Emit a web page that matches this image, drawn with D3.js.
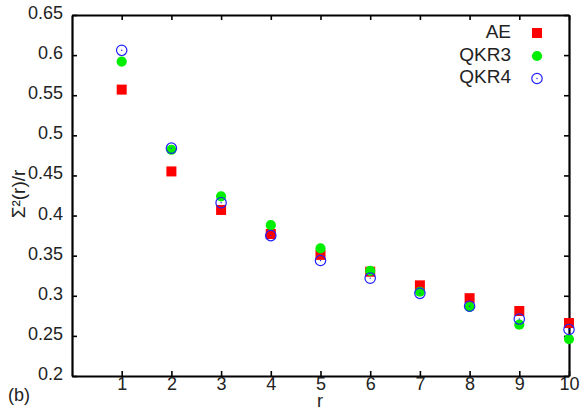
<!DOCTYPE html>
<html>
<head>
<meta charset="utf-8">
<script src="https://cdn.jsdelivr.net/npm/d3@7"></script>
<style>
  html, body { margin: 0; padding: 0; background: #fff; }
  svg { display: block; }
  text { font-family: "Liberation Sans", Arial, Helvetica, sans-serif; fill: #222; }
</style>
</head>
<body>
<svg id="chart" width="583" height="413"></svg>
<script>
// r values and Σ²(r)/r for each method
const rValues = [1, 2, 3, 4, 5, 6, 7, 8, 9, 10];
const aeValues   = [0.557, 0.455, 0.407, 0.377, 0.351, 0.330, 0.313, 0.297, 0.281, 0.266];
const qkr3Values = [0.592, 0.482, 0.424, 0.388, 0.359, 0.331, 0.305, 0.286, 0.264, 0.246];
const qkr4Values = [0.606, 0.484, 0.416, 0.375, 0.344, 0.322, 0.303, 0.287, 0.271, 0.258];
const seriesNames = ["AE", "QKR3", "QKR4"];
const xTicks = [1, 2, 3, 4, 5, 6, 7, 8, 9, 10];
const yTicks = [0.2, 0.25, 0.3, 0.35, 0.4, 0.45, 0.5, 0.55, 0.6, 0.65];

const svg = d3.select("#chart");
const plotLeft = 72, plotRight = 569, plotTop = 15, plotBottom = 376;

const x = d3.scaleLinear().domain([0, 10]).range([plotLeft, plotRight]);
const y = d3.scaleLinear().domain([0.2, 0.65]).range([plotBottom, plotTop]);

const tickLen = 5;
const fontSize = 18;
const fmt = d => String(+d.toFixed(2));

// Axes: ticks point inward on all four sides
const gBottom = svg.append("g").attr("transform", `translate(0,${plotBottom})`)
  .call(d3.axisBottom(x).tickValues(xTicks).tickSize(-tickLen).tickSizeOuter(0).tickFormat(d3.format("d")));
const gTop = svg.append("g").attr("transform", `translate(0,${plotTop})`)
  .call(d3.axisTop(x).tickValues(xTicks).tickSize(-tickLen).tickSizeOuter(0).tickFormat(""));
const gLeft = svg.append("g").attr("transform", `translate(${plotLeft},0)`)
  .call(d3.axisLeft(y).tickValues(yTicks).tickSize(-tickLen).tickSizeOuter(0).tickPadding(9).tickFormat(fmt));
const gRight = svg.append("g").attr("transform", `translate(${plotRight},0)`)
  .call(d3.axisRight(y).tickValues(yTicks).tickSize(-tickLen).tickSizeOuter(0).tickFormat(""));

[gBottom, gTop, gLeft, gRight].forEach(g => {
  g.select(".domain").attr("stroke", "#000").attr("stroke-width", 2.2);
  g.selectAll(".tick line").attr("stroke", "#000").attr("stroke-width", 1.6);
  g.selectAll(".tick text").attr("font-size", fontSize).attr("fill", "#222")
    .attr("font-family", "Liberation Sans, Arial, sans-serif");
});
gBottom.selectAll(".tick text").attr("y", 14).attr("dy", null);
gLeft.selectAll(".tick text").attr("dy", 3.5);

// Axis titles and panel tag
svg.append("text").attr("x", 320).attr("y", 407).attr("text-anchor", "middle")
  .attr("font-size", fontSize).text("r");
svg.append("text").attr("transform", "translate(25,194) rotate(-90)")
  .attr("text-anchor", "middle").attr("font-size", 19).text("Σ²(r)/r");
svg.append("text").attr("x", 8).attr("y", 401).attr("font-size", fontSize).text("(b)");

const plot = svg.append("g");

// AE: red squares
const sq = 10;
plot.selectAll("rect.ae").data(rValues.map((r, i) => [r, aeValues[i]]))
  .enter().append("rect").attr("class", "ae")
  .attr("x", d => x(d[0]) - sq / 2).attr("y", d => y(d[1]) - sq / 2)
  .attr("width", sq).attr("height", sq).attr("fill", "#ff0000");

// QKR3: green filled circles
plot.selectAll("circle.qkr3").data(rValues.map((r, i) => [r, qkr3Values[i]]))
  .enter().append("circle").attr("class", "qkr3")
  .attr("cx", d => x(d[0])).attr("cy", d => y(d[1])).attr("r", 5.1)
  .attr("fill", "#00ee00");

// QKR4: blue open circles with centre dot
const q4 = plot.selectAll("g.qkr4").data(rValues.map((r, i) => [r, qkr4Values[i]]))
  .enter().append("g").attr("class", "qkr4")
  .attr("transform", d => `translate(${x(d[0])},${y(d[1])})`);
q4.append("circle").attr("r", 5.2).attr("fill", "none").attr("stroke", "#2020ff").attr("stroke-width", 1.2);
q4.append("circle").attr("r", 0.7).attr("fill", "#2020ff");

// Legend
const legendY = [33, 56, 78.5];
const legendTextX = 511, legendMarkX = 537;
seriesNames.forEach((name, i) => {
  svg.append("text").attr("x", legendTextX).attr("y", legendY[i] + 4.5)
    .attr("text-anchor", "end").attr("font-size", 19).text(name);
});
svg.append("rect").attr("x", legendMarkX - 5).attr("y", legendY[0] - 5)
  .attr("width", 10).attr("height", 10).attr("fill", "#ff0000");
svg.append("circle").attr("cx", legendMarkX).attr("cy", legendY[1]).attr("r", 5.1).attr("fill", "#00ee00");
svg.append("circle").attr("cx", legendMarkX).attr("cy", legendY[2]).attr("r", 5.2)
  .attr("fill", "none").attr("stroke", "#2020ff").attr("stroke-width", 1.2);
svg.append("circle").attr("cx", legendMarkX).attr("cy", legendY[2]).attr("r", 0.7).attr("fill", "#2020ff");
</script>
</body>
</html>
